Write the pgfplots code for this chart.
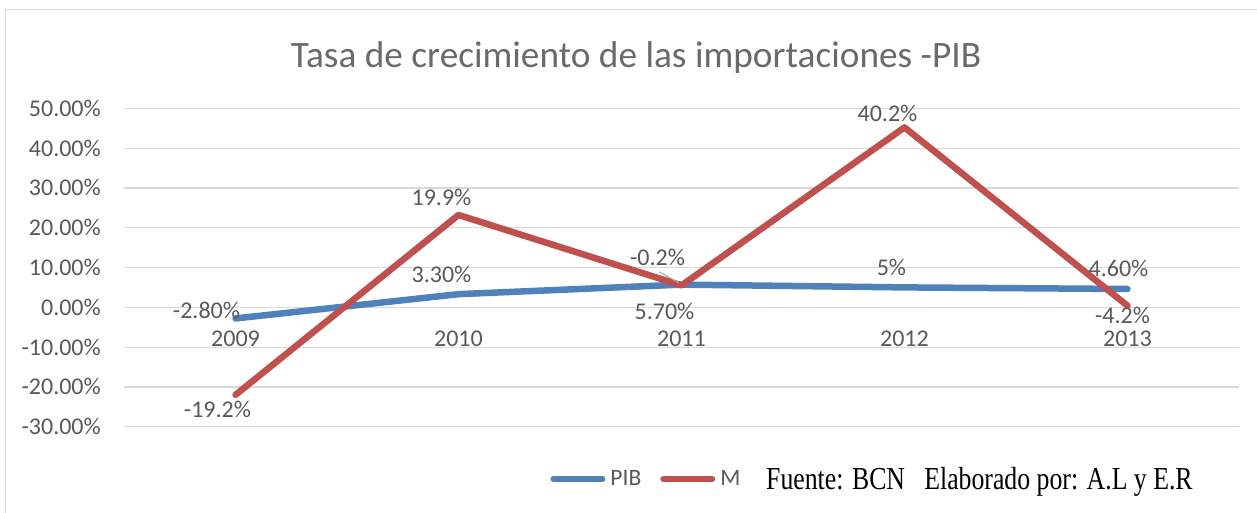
\documentclass[border=0pt]{standalone}
\usepackage{fontspec}
\setmainfont{Carlito}
\newfontfamily\serifnote{Liberation Serif}
\usepackage{graphicx}
\usepackage{pgfplots}
\pgfplotsset{compat=1.18}
\definecolor{pib}{HTML}{4F81BD}
\definecolor{mcol}{HTML}{C0504D}
\definecolor{txt}{HTML}{595959}
\definecolor{gridc}{HTML}{D9D9D9}
\begin{document}
\begin{tikzpicture}[x=1pt,y=1pt]
\path[use as bounding box] (0,0) rectangle (1257,512);
\fill[white] (0,0) rectangle (1257,512);
\draw[gridc, line width=1.5pt] (5.5,-20) -- (5.5,502.5) -- (1280,502.5);
\node[anchor=base, font=\fontsize{37.3}{44}\selectfont, text=txt!90, inner sep=0pt] at (636,444) {Tasa de crecimiento de las importaciones -PIB};
\begin{axis}[
  at={(124pt,85.3pt)}, anchor=south west,
  scale only axis, width=1115pt, height=318.4pt,
  xmin=2008.5, xmax=2013.5, ymin=-30, ymax=50,
  axis x line*=middle, axis y line*=left,
  hide obscured x ticks=false, hide obscured y ticks=false,
  x axis line style={gridc, line width=1.2pt},
  y axis line style={draw=none},
  major tick length=0pt,
  ymajorgrids, grid style={gridc, line width=1.2pt},
  ytick={-30,-20,...,50},
  yticklabels={-30.00\%,-20.00\%,-10.00\%,0.00\%,10.00\%,20.00\%,30.00\%,40.00\%,50.00\%},
  xtick={2009,2010,2011,2012,2013}, xticklabels={2009,2010,2011,2012,2013},
  ticklabel style={font=\fontsize{24}{29}\selectfont, text=txt, inner sep=0pt},
  yticklabel style={anchor=east, xshift=-23pt},
  xticklabel style={anchor=north, yshift=-23pt},
  legend style={at={(0.3823,-0.1643)}, anchor=west, draw=none, fill=none,
    legend columns=-1, font=\fontsize{23.5}{28}\selectfont, text=txt,
    inner sep=0pt, nodes={inner sep=0pt},
    /tikz/every odd column/.style={column sep=5pt},
    /tikz/every even column/.style={column sep=19pt}},
  legend image code/.code={\draw[#1, line cap=round] (0pt,0pt) -- (48.5pt,0pt);},
  clip=false,
]
\addplot[pib, line width=6.5pt, line cap=round, line join=round] coordinates {
  (2009,-2.8) (2010,3.3) (2011,5.7) (2012,5.0) (2013,4.6)};
\addlegendentry{PIB}
% M drawn stacked on PIB (as in the original stacked line chart): PIB + M
\addplot[mcol, line width=6.5pt, line cap=round, line join=round] coordinates {
  (2009,-22.0) (2010,23.2) (2011,5.5) (2012,45.2) (2013,0.4)};
\addlegendentry{M}
\draw[gray!70, line width=1pt] (axis cs:2010.90,8.9) -- (axis cs:2010.99,6.1);
\addplot[draw=none, forget plot,
  nodes near coords={\pgfplotspointmeta\%},
  point meta=explicit symbolic,
  visualization depends on={\thisrow{dx}\as\dx},
  visualization depends on={\thisrow{dy}\as\dy},
  nodes near coords style={anchor=center, xshift=\dx pt, yshift=\dy pt,
    font=\fontsize{24}{29}\selectfont, text=txt, inner sep=0pt}]
  table[x=x, y=y, meta=lab] {
x y dx dy lab
2009 -2.8 -29 8 -2.80
2010 3.3 -17 20 3.30
2011 5.7 -17 -26.5 5.70
2012 5.0 -13 20 5
2013 4.6 -9 21 4.60
2009 -22.0 -18 -15 -19.2
2010 23.2 -17 17.5 19.9
2011 5.5 -24 28 -0.2
2012 45.2 -17 14 40.2
2013 0.4 -5 -10 -4.2
};
\end{axis}
\node[anchor=base west, font=\serifnote\fontsize{32}{38}\selectfont, text=black, inner sep=0pt] at (766,22.7) {\scalebox{0.805}[1]{Fuente: BCN\hspace{0.75em}Elaborado por: A.L y E.R}};
\end{tikzpicture}
\end{document}
